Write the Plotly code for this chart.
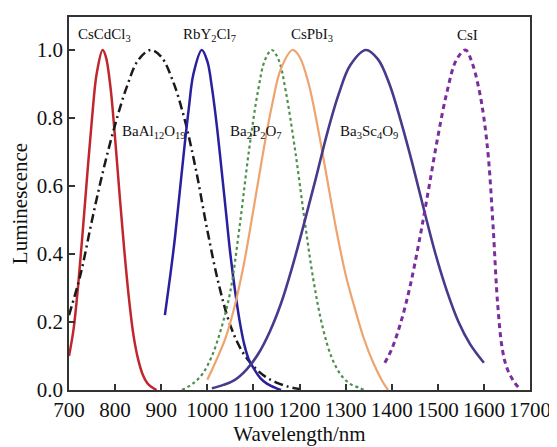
import plotly.graph_objects as go

# ---- data ----
cscdcl3_x = [700, 710, 720, 730, 740, 750, 760, 773, 780, 790, 800, 810, 820, 830, 840, 850, 860, 870, 880, 890]
cscdcl3_y = [0.10, 0.18, 0.31, 0.47, 0.64, 0.80, 0.93, 1.0, 0.98, 0.89, 0.74, 0.57, 0.41, 0.27, 0.16, 0.09, 0.045, 0.02, 0.008, 0.0]

baal_x = [700, 725, 750, 775, 800, 825, 850, 877, 900, 925, 950, 975, 1000, 1025, 1050, 1075, 1100, 1125, 1150, 1175, 1200]
baal_y = [0.22, 0.34, 0.50, 0.65, 0.78, 0.89, 0.97, 1.0, 0.98, 0.91, 0.80, 0.65, 0.47, 0.31, 0.19, 0.115, 0.07, 0.04, 0.022, 0.01, 0.003]

rby_x = [908, 920, 930, 940, 950, 960, 970, 988, 1000, 1010, 1020, 1030, 1040, 1050, 1060, 1070, 1080, 1090, 1100, 1115, 1130, 1150, 1160]
rby_y = [0.22, 0.34, 0.45, 0.58, 0.71, 0.83, 0.93, 1.0, 0.967, 0.89, 0.785, 0.66, 0.53, 0.40, 0.294, 0.204, 0.135, 0.09, 0.065, 0.035, 0.018, 0.005, 0.0]

bap_x = [945, 970, 990, 1010, 1030, 1050, 1070, 1090, 1110, 1125, 1140, 1155, 1170, 1190, 1210, 1230, 1250, 1270, 1290, 1310, 1330, 1340]
bap_y = [0.0, 0.02, 0.048, 0.10, 0.18, 0.29, 0.48, 0.70, 0.88, 0.97, 1.0, 0.97, 0.88, 0.71, 0.51, 0.325, 0.186, 0.095, 0.044, 0.018, 0.006, 0.0]

cspbi_x = [1000, 1020, 1040, 1060, 1080, 1100, 1120, 1140, 1160, 1185, 1200, 1220, 1240, 1260, 1280, 1300, 1320, 1340, 1360, 1380, 1392]
cspbi_y = [0.03, 0.089, 0.155, 0.25, 0.375, 0.53, 0.69, 0.835, 0.946, 1.0, 0.98, 0.90, 0.77, 0.62, 0.47, 0.34, 0.24, 0.15, 0.08, 0.025, 0.0]

basc_x = [1010, 1035, 1060, 1085, 1110, 1135, 1160, 1185, 1210, 1235, 1260, 1285, 1310, 1344, 1370, 1395, 1420, 1445, 1470, 1495, 1520, 1545, 1570, 1600]
basc_y = [0.005, 0.015, 0.03, 0.06, 0.105, 0.17, 0.255, 0.365, 0.49, 0.62, 0.755, 0.87, 0.955, 1.0, 0.973, 0.90, 0.79, 0.665, 0.53, 0.40, 0.29, 0.20, 0.135, 0.08]

csi_x = [1385, 1400, 1420, 1440, 1460, 1480, 1500, 1520, 1540, 1560, 1575, 1590, 1600, 1610, 1620, 1630, 1640, 1650, 1665, 1680]
csi_y = [0.08, 0.12, 0.20, 0.306, 0.44, 0.59, 0.744, 0.877, 0.97, 1.0, 0.96, 0.88, 0.80, 0.68, 0.48, 0.25, 0.12, 0.065, 0.025, 0.0]

labels = ["CsCdCl<sub>3</sub>", "BaAl<sub>12</sub>O<sub>19</sub>", "RbY<sub>2</sub>Cl<sub>7</sub>",
          "Ba<sub>2</sub>P<sub>2</sub>O<sub>7</sub>", "CsPbI<sub>3</sub>", "Ba<sub>3</sub>Sc<sub>4</sub>O<sub>9</sub>", "CsI"]
label_x = [777, 884, 1004, 1106, 1227, 1351, 1565]
label_y = [1.044, 0.76, 1.044, 0.76, 1.044, 0.76, 1.044]

x_ticks = [700, 800, 900, 1000, 1100, 1200, 1300, 1400, 1500, 1600, 1700]
y_ticks = [0.0, 0.2, 0.4, 0.6, 0.8, 1.0]

FONT = "Liberation Serif, Times New Roman, serif"

fig = go.Figure()
series = [
    (cscdcl3_x, cscdcl3_y, "#c0272d", "solid", 2.5),
    (baal_x, baal_y, "#1a1a1a", "9px,4px,2px,4px", 2.5),
    (rby_x, rby_y, "#2a1f9c", "solid", 2.5),
    (bap_x, bap_y, "#4e8f4e", "dot", 2.2),
    (cspbi_x, cspbi_y, "#eea46e", "solid", 2.2),
    (basc_x, basc_y, "#473a8c", "solid", 2.6),
    (csi_x, csi_y, "#7b2d9b", "5px,4px", 3),
]
for xs, ys, c, d, w in series:
    fig.add_trace(go.Scatter(x=xs, y=ys, mode="lines", line=dict(color=c, dash=d, width=w, shape="spline"),
                             showlegend=False, hoverinfo="skip"))

for t, lx, ly in zip(labels, label_x, label_y):
    fig.add_annotation(x=lx, y=ly, text=t, showarrow=False, font=dict(family=FONT, size=15, color="#111"),
                       xanchor="center", yanchor="middle")

# page body has an 8px default margin, so the figure is sized/offset to compensate
fig.update_layout(
    width=549, height=439,
    margin=dict(l=61, r=27, t=9, b=57),
    paper_bgcolor="white", plot_bgcolor="white",
    font=dict(family=FONT, color="#111"),
)
fig.update_xaxes(range=[700, 1700], tickvals=x_ticks, ticktext=[str(v) for v in x_ticks],
                 ticks="inside", ticklen=6, tickwidth=1.5, tickcolor="#333", automargin=False,
                 showline=True, linecolor="#333", linewidth=1.5, mirror=True, showgrid=False, zeroline=False,
                 tickfont=dict(family=FONT, size=21, color="#111"),
                 title=dict(text="Wavelength/nm", font=dict(family=FONT, size=21, color="#111"), standoff=2))
fig.update_yaxes(range=[0, 1.097], tickvals=y_ticks, ticktext=["%.1f" % v for v in y_ticks],
                 ticks="inside", ticklen=6, tickwidth=1.5, tickcolor="#333", automargin=False,
                 showline=True, linecolor="#333", linewidth=1.5, mirror=True, showgrid=False, zeroline=False,
                 tickfont=dict(family=FONT, size=21, color="#111"),
                 title=dict(text="Luminescence", font=dict(family=FONT, size=21, color="#111"), standoff=4))

fig.write_html("out.html")
